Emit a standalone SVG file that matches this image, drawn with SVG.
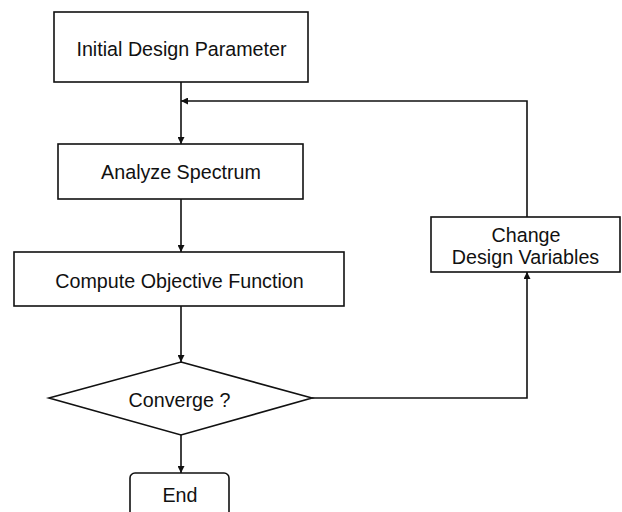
<svg xmlns="http://www.w3.org/2000/svg" width="622" height="512" viewBox="0 0 622 512">
<style>
.box{fill:#fff;stroke:#111;stroke-width:1.6}
.lbl{font-family:"Liberation Sans",Arial,sans-serif;font-size:19.7px;fill:#111;text-anchor:middle}
.con{fill:none;stroke:#111;stroke-width:1.6}
</style>
<defs>
<marker id="ah" viewBox="0 0 10 10" refX="10" refY="5" markerWidth="7" markerHeight="7" markerUnits="userSpaceOnUse" orient="auto">
<path d="M0,0 L10,5 L0,10 z" fill="#111"/>
</marker>
</defs>
<rect width="622" height="512" fill="#fff"/>
<g id="connectors">
<line class="con" x1="181" y1="82" x2="181" y2="144" marker-end="url(#ah)"/>
<line class="con" x1="181" y1="199" x2="181" y2="252" marker-end="url(#ah)"/>
<line class="con" x1="181" y1="306" x2="181" y2="362" marker-end="url(#ah)"/>
<line class="con" x1="181" y1="435" x2="181" y2="473" marker-end="url(#ah)"/>
<polyline class="con" points="312,398 527,398 527,272" marker-end="url(#ah)"/>
<polyline class="con" points="527,217 527,101 181,101" marker-end="url(#ah)"/>
</g>
<g id="n1">
<rect class="box" x="54" y="12" width="254" height="70"/>
<text class="lbl" x="181.5" y="56">Initial Design Parameter</text>
</g>
<g id="n2">
<rect class="box" x="58" y="144" width="245" height="55"/>
<text class="lbl" x="181" y="179">Analyze Spectrum</text>
</g>
<g id="n3">
<rect class="box" x="14" y="252" width="330" height="54"/>
<text class="lbl" x="179.5" y="288">Compute Objective Function</text>
</g>
<g id="n4">
<polygon class="box" points="181,362 312,398 181,435 49,398"/>
<text class="lbl" x="179.5" y="407">Converge ?</text>
</g>
<g id="n5">
<rect class="box" x="130" y="473" width="99" height="50" rx="5"/>
<text class="lbl" x="180" y="502">End</text>
</g>
<g id="n6">
<rect class="box" x="431" y="217" width="189" height="55"/>
<text class="lbl" x="526" y="242">Change</text>
<text class="lbl" x="525.5" y="264">Design Variables</text>
</g>
</svg>
